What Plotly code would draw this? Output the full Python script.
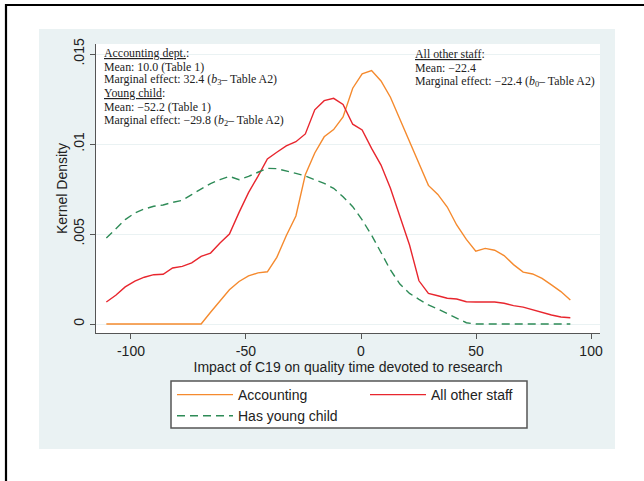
import plotly.graph_objects as go

# ---- data ----
x_vals = [-110.7, -106.6, -102.5, -98.3, -94.2, -90.1, -86.0, -81.9, -77.7, -73.6,
          -69.5, -65.4, -61.3, -57.2, -53.0, -48.9, -44.8, -40.7, -36.6, -32.5,
          -28.3, -24.2, -20.1, -16.0, -11.9, -7.8, -3.6, 0.5, 4.6, 8.7,
          12.8, 16.9, 21.1, 25.2, 29.3, 33.4, 37.5, 41.6, 45.8, 49.9,
          54.0, 58.1, 62.2, 66.3, 70.5, 74.6, 78.7, 82.8, 86.9, 91.0]

accounting = [0, 0, 0, 0, 0, 0, 0, 0, 0, 0,
              0, 0.00065, 0.0013, 0.0019, 0.00236, 0.00267, 0.00284, 0.0029, 0.0037, 0.0049,
              0.0060, 0.0083, 0.0095, 0.0104, 0.0108, 0.0115, 0.0131, 0.0139, 0.01408, 0.0135,
              0.0126, 0.0114, 0.0101, 0.0090, 0.0077, 0.0072, 0.0065, 0.0055, 0.0047, 0.00405,
              0.0042, 0.0041, 0.0038, 0.0033, 0.00288, 0.00278, 0.00253, 0.00217, 0.0018, 0.00133]

other_staff = [0.00122, 0.0016, 0.00206, 0.00238, 0.0026, 0.00274, 0.00276, 0.00311, 0.0032, 0.0034,
               0.00376, 0.00394, 0.0045, 0.0050, 0.0062, 0.0073, 0.0082, 0.00917, 0.00954, 0.0099,
               0.01013, 0.01056, 0.0119, 0.01241, 0.01254, 0.0122, 0.0111, 0.01078, 0.00976, 0.00883,
               0.00754, 0.00596, 0.00439, 0.0024, 0.0017, 0.00157, 0.00143, 0.00139, 0.00124, 0.00122,
               0.0012, 0.00122, 0.00115, 0.00102, 0.00094, 0.00078, 0.00063, 0.0005, 0.00039, 0.00035]

young_child = [0.00478, 0.0053, 0.0058, 0.00617, 0.00639, 0.00654, 0.00661, 0.00676, 0.00687, 0.00719,
               0.0075, 0.0078, 0.00802, 0.0082, 0.00802, 0.0082, 0.00843, 0.00865, 0.00863, 0.00852,
               0.00837, 0.00822, 0.0080, 0.00781, 0.00754, 0.00707, 0.00652, 0.00578, 0.00494, 0.00393,
               0.0030, 0.00222, 0.0017, 0.00137, 0.00106, 0.00083, 0.00059, 0.00031, 0.00007, 0,
               0, 0, 0, 0, 0, 0, 0, 0, 0, 0]

series_names = ["Accounting", "All other staff", "Has young child"]

x_tickvals = [-100, -50, 0, 50, 100]
x_ticktext = ["-100", "-50", "0", "50", "100"]
y_tickvals = [0, 0.005, 0.01, 0.015]
y_ticktext = ["0", ".005", ".01", ".015"]

note_left = ["<u>Accounting dept.</u>:",
             "Mean: 10.0 (Table 1)",
             "Marginal effect: 32.4 (<i>b</i><sub>3</sub>– Table A2)",
             "<u>Young child</u>:",
             "Mean: −52.2 (Table 1)",
             "Marginal effect: −29.8 (<i>b</i><sub>2</sub>– Table A2)"]
note_right = ["<u>All other staff</u>:",
              "Mean: −22.4",
              "Marginal effect: −22.4 (<i>b</i><sub>0</sub>– Table A2)"]

# ---- layout geometry (pixels) ----
W, H = 644, 481
L, R, T, B = 96, 44, 44, 148
PW, PH = W - L - R, H - T - B


def fx(px):
    return (px - L) / PW


def fy(py):
    return (H - B - py) / PH


SANS = "Liberation Sans, Arial, sans-serif"
SERIF = "Liberation Serif, Times New Roman, serif"
PANEL = "#EAF2F3"
AXIS = "#555555"
TXT = "#222222"

fig = go.Figure()
fig.add_trace(go.Scatter(x=x_vals, y=accounting, mode="lines", name=series_names[0],
                         line=dict(color="#F58A2E", width=1.4)))
fig.add_trace(go.Scatter(x=x_vals, y=other_staff, mode="lines", name=series_names[1],
                         line=dict(color="#E8262E", width=1.4)))
fig.add_trace(go.Scatter(x=x_vals, y=young_child, mode="lines", name=series_names[2],
                         line=dict(color="#2E8B57", width=1.4, dash="8px,5px")))

shapes = [
    dict(type="rect", xref="paper", yref="paper", x0=fx(39), x1=fx(615), y0=fy(449), y1=fy(29),
         fillcolor=PANEL, line=dict(width=0), layer="below"),
    dict(type="rect", xref="paper", yref="paper", x0=0, x1=1, y0=0, y1=1,
         fillcolor="white", line=dict(width=0), layer="below"),
    dict(type="rect", xref="paper", yref="paper", x0=fx(171), x1=fx(527), y0=fy(428), y1=fy(381),
         fillcolor="white", line=dict(color="#555555", width=1.5), layer="below"),
    dict(type="line", xref="paper", yref="paper", x0=fx(5), x1=fx(644), y0=fy(5), y1=fy(5),
         line=dict(color="black", width=2.2)),
    dict(type="line", xref="paper", yref="paper", x0=fx(6), x1=fx(6), y0=fy(4), y1=fy(481),
         line=dict(color="black", width=2.2)),
]

annotations = []
for txt, py in zip(note_left, [53.5, 66.5, 79.7, 93, 106.5, 120]):
    annotations.append(dict(text=txt, x=fx(102), y=fy(py), xref="paper", yref="paper",
                            xanchor="left", yanchor="middle", showarrow=False,
                            font=dict(family=SERIF, size=11.9, color=TXT)))
for txt, py in zip(note_right, [54, 67.5, 81.5]):
    annotations.append(dict(text=txt, x=fx(413), y=fy(py), xref="paper", yref="paper",
                            xanchor="left", yanchor="middle", showarrow=False,
                            font=dict(family=SERIF, size=11.9, color=TXT)))

fig.update_layout(
    width=W, height=H,
    margin=dict(l=L, r=R, t=T, b=B, autoexpand=False),
    paper_bgcolor="white",
    plot_bgcolor="rgba(0,0,0,0)",
    font=dict(family=SANS, size=14, color=TXT),
    shapes=shapes,
    annotations=annotations,
    showlegend=True,
    legend=dict(orientation="h", x=fx(172), y=fy(379), xanchor="left", yanchor="top",
                bgcolor="rgba(0,0,0,0)", borderwidth=0,
                font=dict(family=SANS, size=14, color=TXT),
                itemwidth=56, entrywidth=122, entrywidthmode="pixels",
                traceorder="normal", tracegroupgap=0),
    xaxis=dict(range=[-115.2, 103.9], tickvals=x_tickvals, ticktext=x_ticktext,
               ticks="outside", ticklen=5, tickwidth=1.2, tickcolor=AXIS,
               showline=True, linecolor=AXIS, linewidth=1.3,
               showgrid=False, zeroline=False, automargin=False,
               tickfont=dict(family=SANS, size=14, color=TXT),
               title=dict(text="Impact of C19 on quality time devoted to research",
                          font=dict(family=SANS, size=14, color=TXT), standoff=0)),
    yaxis=dict(range=[-0.0005, 0.015556], tickvals=y_tickvals, ticktext=y_ticktext,
               tickangle=-90, ticks="outside", ticklen=5, tickwidth=1.2, tickcolor=AXIS,
               showline=True, linecolor=AXIS, linewidth=1.3,
               showgrid=True, gridcolor=PANEL, gridwidth=1.2, zeroline=False, automargin=False,
               tickfont=dict(family=SANS, size=14, color=TXT),
               title=dict(text="Kernel Density",
                          font=dict(family=SANS, size=14, color=TXT), standoff=0)),
)

fig.write_html("out.html", config={"displayModeBar": False},
               post_script="document.body.style.margin='0';")
